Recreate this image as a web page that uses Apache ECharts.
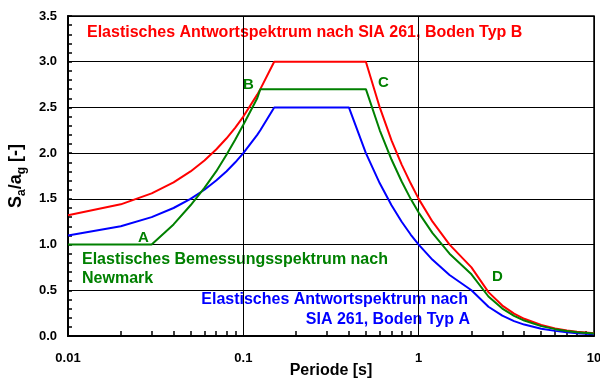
<!DOCTYPE html>
<html><head><meta charset="utf-8">
<script src="https://cdn.jsdelivr.net/npm/echarts@6/dist/echarts.min.js"></script>
<style>html,body{margin:0;padding:0;background:#fff}#c{width:600px;height:378px}</style>
</head><body><div id="c"></div>
<script>
// Periods [s]
var periods = [0.01,0.02,0.03,0.04,0.05,0.06,0.07,0.08,0.09,0.1,0.12,0.125,0.15,0.2,0.3,0.4,0.5,0.6,0.7,0.8,0.9,1,1.2,1.5,2,2.5,3,3.5,4,5,6,7,8,10];
// SIA 261 Boden Typ B (red)
var siaB = [1.32,1.44,1.56,1.68,1.80,1.92,2.04,2.16,2.28,2.40,2.64,2.70,3.0,3.0,3.0,3.0,3.0,2.50,2.14,1.875,1.67,1.50,1.25,1.00,0.75,0.48,0.333,0.245,0.188,0.12,0.083,0.061,0.047,0.03];
// SIA 261 Boden Typ A (blue)
var siaA = [1.10,1.20,1.30,1.40,1.50,1.60,1.70,1.80,1.90,2.00,2.20,2.25,2.5,2.5,2.5,2.5,2.00,1.67,1.43,1.25,1.11,1.00,0.833,0.667,0.50,0.32,0.222,0.163,0.125,0.08,0.056,0.041,0.031,0.02];
// Newmark (green)
var newmark = [1.0,1.0,1.0,1.22,1.43,1.62,1.80,1.98,2.15,2.31,2.60,2.70,2.7,2.7,2.7,2.7,2.7,2.25,1.93,1.69,1.50,1.35,1.125,0.90,0.675,0.432,0.30,0.22,0.169,0.108,0.075,0.055,0.042,0.027];
var xTicks = [0.01,0.1,1,10];
var xMinorTicks = [0.02,0.03,0.04,0.05,0.06,0.07,0.08,0.09,0.2,0.3,0.4,0.5,0.6,0.7,0.8,0.9,2,3,4,5,6,7,8,9];

function pairs(ys){return periods.map(function(t,i){return [t,ys[i]];});}
var FF = '"Liberation Sans", Arial, sans-serif';
var chart = echarts.init(document.getElementById('c'));
var lbl = {fontFamily:FF,fontWeight:'bold',fontSize:13,color:'#000'};
chart.setOption({
  animation:false,
  grid:{left:68,right:6,top:16,bottom:42,show:true,borderColor:'#000',borderWidth:1.5,outerBoundsMode:'none',containLabel:false},
  xAxis:[{
    type:'log',logBase:10,min:0.01,max:10,
    name:'Periode [s]',nameLocation:'middle',nameGap:27,nameMoveOverlap:false,
    nameTextStyle:{fontFamily:FF,fontWeight:'bold',fontSize:16,color:'#000'},
    axisLine:{show:true,lineStyle:{color:'#000',width:2}},
    axisTick:{show:false},
    axisLabel:Object.assign({margin:16,formatter:function(v){return String(+v.toPrecision(3));}},lbl),
    splitLine:{show:true,lineStyle:{color:'#000',width:1}}
  },{
    type:'log',logBase:10,min:0.01,max:10,position:'bottom',
    axisLine:{show:false},
    axisLabel:{show:false},
    splitLine:{show:false},
    axisTick:{show:true,inside:true,length:5,customValues:xMinorTicks,lineStyle:{color:'#000',width:1.5}}
  }],
  yAxis:{
    type:'value',min:0,max:3.5,interval:0.5,
    name:'S{sub|a}/a{sub|g} [-]',nameLocation:'middle',nameRotate:90,nameGap:40,nameMoveOverlap:false,
    nameTextStyle:{fontFamily:FF,fontWeight:'bold',fontSize:18,color:'#000',lineHeight:24,
      rich:{sub:{fontFamily:FF,fontWeight:'bold',fontSize:12,color:'#000',verticalAlign:'bottom',lineHeight:24}}},
    axisLine:{show:true,lineStyle:{color:'#000',width:2}},
    axisTick:{show:true,inside:true,length:4,lineStyle:{color:'#000',width:1.5}},
    minorTick:{show:true,splitNumber:5,length:4,lineStyle:{color:'#000',width:1.5}},
    axisLabel:Object.assign({margin:11,formatter:function(v){return v.toFixed(1);}},lbl),
    splitLine:{show:true,lineStyle:{color:'#000',width:1}}
  },
  series:[
    {type:'line',name:'SIA B',data:pairs(siaB),showSymbol:false,lineStyle:{color:'#ff0000',width:2},itemStyle:{color:'#ff0000'},z:4},
    {type:'line',name:'Newmark',data:pairs(newmark),showSymbol:false,lineStyle:{color:'#008000',width:2},itemStyle:{color:'#008000'},z:5},
    {type:'line',name:'SIA A',data:pairs(siaA),showSymbol:false,lineStyle:{color:'#0000ff',width:2},itemStyle:{color:'#0000ff'},z:3}
  ],
  graphic:[
    {type:'text',left:87,top:23,style:{text:'Elastisches Antwortspektrum nach SIA 261, Boden Typ B',fill:'#ff0000',font:'bold 16px '+FF,lineHeight:20}},
    {type:'text',left:82,top:250,style:{text:'Elastisches Bemessungsspektrum nach\nNewmark',fill:'#008000',font:'bold 16px '+FF,lineHeight:19}},
    {type:'text',right:132,top:290,style:{text:'Elastisches Antwortspektrum nach',fill:'#0000ff',font:'bold 16px '+FF,lineHeight:20}},
    {type:'text',right:130,top:310,style:{text:'SIA 261, Boden Typ A',fill:'#0000ff',font:'bold 16px '+FF,lineHeight:20}},
    {type:'text',left:243,top:76,style:{text:'B',fill:'#008000',font:'bold 15px '+FF,lineHeight:18}},
    {type:'text',left:378,top:74,style:{text:'C',fill:'#008000',font:'bold 15px '+FF,lineHeight:18}},
    {type:'text',left:138,top:229,style:{text:'A',fill:'#008000',font:'bold 15px '+FF,lineHeight:18}},
    {type:'text',left:492,top:268,style:{text:'D',fill:'#008000',font:'bold 15px '+FF,lineHeight:18}}
  ]
});
</script></body></html>
